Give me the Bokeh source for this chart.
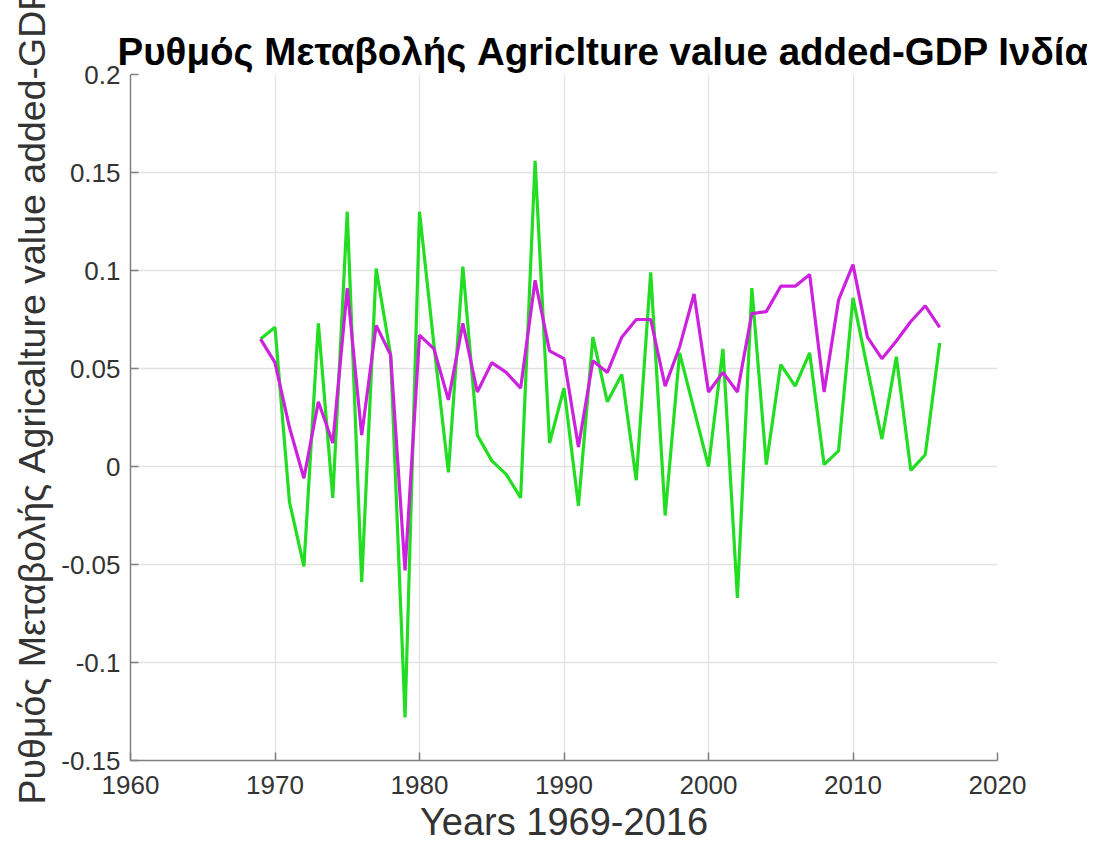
from bokeh.plotting import figure
from bokeh.models import ColumnDataSource, Range1d, FixedTicker, Title
from bokeh.embed import file_html
from bokeh.resources import INLINE

# ---- data ----
years = list(range(1969, 2017))
agri_growth = [0.065, 0.071, -0.018, -0.051, 0.073, -0.016, 0.130, -0.059, 0.101, 0.057,
               -0.128, 0.130, 0.062, -0.003, 0.102, 0.016, 0.003, -0.004, -0.016, 0.156,
               0.012, 0.040, -0.020, 0.066, 0.033, 0.047, -0.007, 0.099, -0.025, 0.058,
               0.029, 0.000, 0.060, -0.067, 0.091, 0.001, 0.052, 0.041, 0.058, 0.001,
               0.008, 0.086, 0.050, 0.014, 0.056, -0.002, 0.006, 0.063]
gdp_growth = [0.065, 0.053, 0.020, -0.006, 0.033, 0.012, 0.091, 0.016, 0.072, 0.057,
              -0.053, 0.067, 0.060, 0.034, 0.073, 0.038, 0.053, 0.048, 0.040, 0.095,
              0.059, 0.055, 0.010, 0.054, 0.048, 0.066, 0.075, 0.075, 0.041, 0.061,
              0.088, 0.038, 0.048, 0.038, 0.078, 0.079, 0.092, 0.092, 0.098, 0.038,
              0.085, 0.103, 0.066, 0.055, 0.064, 0.074, 0.082, 0.071]
x_ticks = [1960, 1970, 1980, 1990, 2000, 2010, 2020]
y_ticks = [-0.15, -0.1, -0.05, 0.0, 0.05, 0.1, 0.15, 0.2]
y_tick_labels = ["-0.15", "-0.1", "-0.05", "0", "0.05", "0.1", "0.15", "0.2"]

title_text = "Ρυθμός Μεταβολής Agriclture value added-GDP Ινδία"
y_label = "Ρυθμός Μεταβολής Agricalture value added-GDP"
x_label = "Years 1969-2016"

source = ColumnDataSource(data=dict(year=years, agri=agri_growth, gdp=gdp_growth))

FONT = "Liberation Sans"
LABEL_COLOR = "#333333"

p = figure(frame_width=867, frame_height=686,
           min_border_left=130, min_border_right=90,
           min_border_top=74, min_border_bottom=40,
           x_range=Range1d(x_ticks[0], x_ticks[-1]),
           y_range=Range1d(y_ticks[0], y_ticks[-1]),
           output_backend="svg", toolbar_location=None,
           title=title_text)

p.title.text_font = FONT
p.title.text_font_size = "38.5px"
p.title.text_font_style = "bold"
p.title.text_color = "#000000"
p.title.align = "left"
p.title.offset = -13
p.title.standoff = 4

p.outline_line_color = None
p.background_fill_color = "white"
p.border_fill_color = "white"

p.line("year", "agri", source=source, line_color="#22dd22", line_width=3.2)
p.line("year", "gdp", source=source, line_color="#cc22dd", line_width=3.2)

p.xaxis.ticker = FixedTicker(ticks=x_ticks)
p.yaxis.ticker = FixedTicker(ticks=y_ticks)
p.yaxis.major_label_overrides = {t: l for t, l in zip(y_ticks, y_tick_labels)}

for ax in (p.xaxis[0], p.yaxis[0]):
    ax.axis_line_color = "#808080"
    ax.axis_line_width = 1.5
    ax.major_tick_line_color = "#808080"
    ax.major_tick_line_width = 1.5
    ax.major_tick_in = 8
    ax.major_tick_out = 0
    ax.minor_tick_line_color = None
    ax.major_label_text_font = FONT
    ax.major_label_text_font_size = "26px"
    ax.major_label_text_color = LABEL_COLOR
    ax.axis_label_text_font = FONT
    ax.axis_label_text_font_size = "38px"
    ax.axis_label_text_font_style = "normal"
    ax.axis_label_text_color = LABEL_COLOR

p.xaxis.axis_label = x_label
p.xaxis.major_label_standoff = 15
p.xaxis.axis_label_standoff = 4
p.yaxis.major_label_standoff = 10

# y-axis label as a left-side title so it can be placed along the axis like the original
ytitle = Title(text=y_label, align="left", offset=-44,
               text_font=FONT, text_font_size="37.5px", text_font_style="normal",
               text_color=LABEL_COLOR, standoff=12)
p.add_layout(ytitle, "left")

p.xgrid.grid_line_color = "#e2e2e2"
p.ygrid.grid_line_color = "#e2e2e2"
p.xgrid.grid_line_width = 1.3
p.ygrid.grid_line_width = 1.3

open("out.html", "w").write(file_html(p, INLINE))
